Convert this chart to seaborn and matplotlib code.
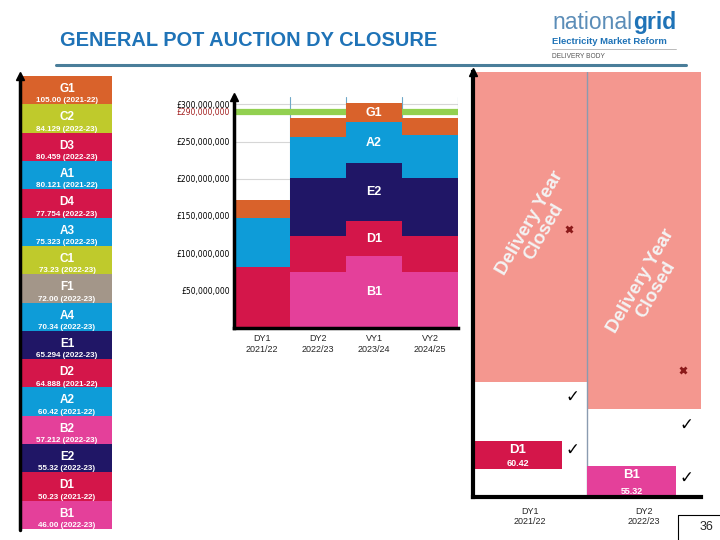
import numpy as np
import pandas as pd
import matplotlib
matplotlib.use("Agg")
import matplotlib.pyplot as plt
import seaborn as sns
from matplotlib.lines import Line2D

# ---------------- data ----------------
# left price ladder (top to bottom)
ladder_units = ["G1", "C2", "D3", "A1", "D4", "A3", "C1", "F1", "A4", "E1",
                "D2", "A2", "B2", "E2", "D1", "B1"]
ladder_prices = ["105.00", "84.129", "80.459", "80.121", "77.754", "75.323", "73.23",
                 "72.00", "70.34", "65.294", "64.888", "60.42", "57.212", "55.32",
                 "50.23", "46.00"]
ladder_years = ["2021-22", "2022-23", "2022-23", "2021-22", "2022-23", "2022-23",
                "2022-23", "2022-23", "2022-23", "2022-23", "2021-22", "2021-22",
                "2022-23", "2022-23", "2021-22", "2022-23"]
ladder_box = [1] * len(ladder_units)

# middle stacked chart (GBP millions)
mid_years = ["DY1\n2021/22", "DY2\n2022/23", "VY1\n2023/24", "VY2\n2024/25"]
stack_names = ["B1", "D1", "E2", "A2", "G1"]
B1_vals = [0, 75, 96, 75]
D1_vals = [81, 48, 47, 48]
E2_vals = [0, 78, 78, 78]
A2_vals = [66, 55, 55, 58]
G1_vals = [25, 26, 26, 23]
tick_values = [50, 100, 150, 200, 250, 300]
target_value = 290

# right chart (closed delivery years)
right_years = ["DY1\n2021/22", "DY2\n2022/23"]
closed_floor = [115, 88]
closed_ceiling = [425, 425]
cleared_units = ["D1", "B1"]
cleared_prices = ["60.42", "55.32"]
cleared_low = [28, 1]
cleared_high = [56, 31]
cross_y = [268, 127]
check_col = [0, 1, 0, 1]
check_y = [100, 72, 47, 19]
closed_label_x = [0.06, 1.04]
closed_label_y = [270, 212]

# ---------------- style ----------------
COL = {"G": "#D9622B", "C": "#BFCA2C", "D": "#D4164A", "A": "#0E9CD8",
       "F": "#A39689", "E": "#201666", "B": "#E4409A"}
SALMON = "#F4978F"
GREEN = "#92D050"
BLUE_T = "#1F73B7"

sns.set_theme(style="white")
plt.rcParams["font.family"] = ["Liberation Sans", "DejaVu Sans"]

W, H = 720, 540
fig = plt.figure(figsize=(7.2, 5.4), dpi=100)


def px_axes(x0, y0, x1, y1):
    return fig.add_axes([x0 / W, 1 - y1 / H, (x1 - x0) / W, (y1 - y0) / H])


def fx(x):
    return x / W


def fy(y):
    return 1 - y / H


def fline(xs, ys, **kw):
    fig.add_artist(Line2D([fx(v) for v in xs], [fy(v) for v in ys],
                          transform=fig.transFigure, **kw))


# ---------------- header ----------------
fig.text(fx(60), fy(41), "GENERAL POT AUCTION DY CLOSURE", color=BLUE_T,
         fontsize=14.4, weight="bold", va="center", ha="left")
fig.text(fx(633), fy(29), "national", color="#5B8DB8", fontsize=16.5,
         ha="right", va="baseline")
fig.text(fx(633), fy(29), "grid", color=BLUE_T, fontsize=16.5, weight="bold",
         ha="left", va="baseline")
fig.text(fx(552), fy(42), "Electricity Market Reform", color=BLUE_T,
         fontsize=6.8, weight="bold", ha="left", va="center")
fline([552, 676], [49, 49], color="#B0B0B0", lw=0.6)
fig.text(fx(552), fy(57), "DELIVERY BODY", color="#555555", fontsize=4.8,
         ha="left", va="center")
fline([56, 686], [65, 65], color="#4A7E9A", lw=2.2)

# ---------------- left ladder ----------------
axL = px_axes(22, 76, 112, 529)
ldf = pd.DataFrame({"unit": ladder_units, "box": ladder_box})
sns.barplot(data=ldf, y="unit", x="box", hue="unit", orient="h",
            palette={u: COL[u[0]] for u in ladder_units}, width=1.0,
            saturation=1, legend=False, ax=axL, edgecolor="none", linewidth=0)
axL.set_xlim(0, 1)
axL.set_ylim(len(ladder_units) - 0.5, -0.5)
axL.axis("off")
for i, (u, p, yr) in enumerate(zip(ladder_units, ladder_prices, ladder_years)):
    axL.text(0.5, i - 0.04, u, color="white", fontsize=8.5, weight="bold",
             ha="center", va="center")
    axL.text(0.5, i + 0.38, f"{p} ({yr})", color="white", fontsize=5.8,
             weight="bold", ha="center", va="center")
fline([20, 20], [530, 78], color="black", lw=2.5)
fline([20], [76], color="black", marker="^", ms=6, lw=0)

# ---------------- middle stacked chart ----------------
axM = px_axes(234, 97, 458, 327.5)
layers = np.array([B1_vals, D1_vals, E2_vals, A2_vals, G1_vals], dtype=float)
cum = np.cumsum(layers, axis=0)
layer_cols = [COL["B"], COL["D"], COL["E"], COL["A"], COL["G"]]
for k in range(len(stack_names) - 1, -1, -1):
    sns.barplot(x=mid_years, y=cum[k], color=layer_cols[k], width=1.0,
                saturation=1, ax=axM, edgecolor="none", linewidth=0, zorder=3)
axM.set_xlim(-0.5, 3.5)
axM.set_ylim(0, 310)
for t in tick_values:
    axM.axhline(t, color="#D6D6D6", lw=0.8, zorder=0)
for xv in [0.5, 1.5, 2.5, 3.5]:
    axM.axvline(xv, color="#6FA8C8", lw=0.8, zorder=0)
axM.axhline(target_value, color=GREEN, lw=4.5, zorder=1)
yt = tick_values + [target_value]
axM.set_yticks(yt)
axM.set_yticklabels([f"£{v * 1_000_000:,.0f}" for v in yt], fontsize=5.5,
                    family="DejaVu Sans")
for lab, v in zip(axM.get_yticklabels(), yt):
    lab.set_color("#A32020" if v == target_value else "black")
axM.tick_params(axis="both", length=0, pad=3)
axM.tick_params(axis="x", labelsize=6.5, pad=5)
axM.set_xlabel("")
axM.set_ylabel("")
for s in ["top", "right"]:
    axM.spines[s].set_visible(False)
for s in ["left", "bottom"]:
    axM.spines[s].set_color("black")
    axM.spines[s].set_linewidth(2.5)
    axM.spines[s].set_zorder(5)
axM.plot([0], [1], marker="^", color="black", ms=6, transform=axM.transAxes,
         clip_on=False, zorder=6)
ci = 2
for k, name in enumerate(stack_names):
    mid = cum[k, ci] - layers[k, ci] / 2
    axM.text(ci, mid, name, color="white", fontsize=9, weight="bold",
             ha="center", va="center", zorder=6)

# ---------------- right chart ----------------
axR = px_axes(473, 72, 701, 497)
xr = np.arange(len(right_years))
axR.bar(xr, np.array(closed_ceiling) - np.array(closed_floor),
        bottom=closed_floor, width=1.0, color=SALMON, linewidth=0, zorder=1)
axR.axvline(0.5, color="#8A9BB0", lw=1, zorder=2)
bw = 0.78
for i in range(len(cleared_units)):
    axR.bar(xr[i] - 0.5 + bw / 2, cleared_high[i] - cleared_low[i],
            bottom=cleared_low[i], width=bw, color=COL[cleared_units[i][0]],
            linewidth=0, zorder=3)
    axR.text(xr[i] - 0.5 + bw / 2, cleared_high[i] - 9, cleared_units[i],
             color="white", fontsize=9.5, weight="bold", ha="center",
             va="center", zorder=4)
    axR.text(xr[i] - 0.5 + bw / 2, cleared_low[i] + 5, cleared_prices[i],
             color="white", fontsize=6.5, weight="bold", ha="center",
             va="center", zorder=4)
    axR.text(closed_label_x[i], closed_label_y[i],
             "Delivery Year\nClosed", rotation=60, rotation_mode="anchor",
             color="#F3F3F3", fontsize=13.5, weight="bold", ha="center",
             va="center", linespacing=1.0, multialignment="center", zorder=4)
    axR.plot(xr[i] + 0.34, cross_y[i], marker="x", color="#8B1A1A", ms=5,
             mew=2, zorder=5)
for c, y in zip(check_col, check_y):
    axR.text(xr[c] + 0.37, y, "✓", family="DejaVu Sans", fontsize=12,
             color="black", ha="center", va="center", zorder=5)
axR.set_xlim(-0.5, 1.5)
axR.set_ylim(0, 425)
axR.set_xticks(xr)
axR.set_xticklabels(right_years, fontsize=6.5)
axR.set_yticks([])
axR.tick_params(axis="x", length=0, pad=7)
for s in ["top", "right"]:
    axR.spines[s].set_visible(False)
for s in ["left", "bottom"]:
    axR.spines[s].set_color("black")
    axR.spines[s].set_linewidth(3)
    axR.spines[s].set_zorder(6)
axR.plot([0], [1], marker="^", color="black", ms=6, transform=axR.transAxes,
         clip_on=False, zorder=7)

# ---------------- page number ----------------
fline([678, 678], [540, 515], color="black", lw=0.8)
fline([678, 720], [515, 515], color="black", lw=0.8)
fig.text(fx(706), fy(527), "36", fontsize=9, ha="center", va="center")

fig.savefig("out.png", dpi=100)
